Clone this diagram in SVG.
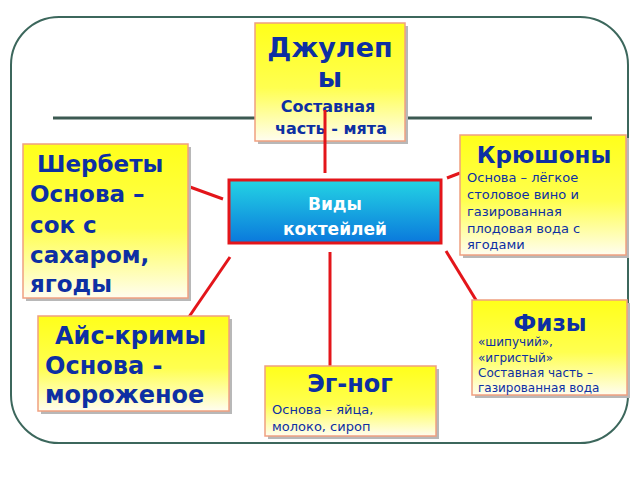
<svg xmlns="http://www.w3.org/2000/svg" width="640" height="480" viewBox="0 0 640 480">
<style>
.box{stroke:#f0a080;stroke-width:1.5;fill:url(#yg)}
.sh{fill:#b8b8b8}
.t{font-family:"DejaVu Sans","Noto Sans",sans-serif;fill:#0d2fa3;font-weight:bold}
.s{font-family:"DejaVu Sans","Noto Sans",sans-serif;fill:#0d2fa3}
.c{stroke:#e3151a;stroke-width:3;fill:none}
</style>
<defs>
<linearGradient id="yg" x1="0" y1="0" x2="0" y2="1"><stop offset="0" stop-color="#ffff1a"/><stop offset="0.55" stop-color="#ffff50"/><stop offset="1" stop-color="#fffdf0"/></linearGradient>
<linearGradient id="bg" x1="0" y1="0" x2="0" y2="1"><stop offset="0" stop-color="#24d4e4"/><stop offset="1" stop-color="#0a78dc"/></linearGradient>
</defs>
<rect width="640" height="480" fill="#fff"/>
<rect x="11" y="17" width="617" height="426" rx="48" fill="none" stroke="#3c675c" stroke-width="2"/>
<line x1="53" y1="118" x2="592" y2="118" stroke="#3c5a52" stroke-width="3"/>
<g id="julep"><rect class="sh" x="258" y="26" width="150" height="118"/><rect class="box" x="255" y="23" width="150" height="118"/>
<text class="t" x="330" y="57" font-size="27" text-anchor="middle">Джулеп</text>
<text class="t" x="330" y="87" font-size="27" text-anchor="middle">ы</text>
<text class="t" x="328" y="112" font-size="16" text-anchor="middle">Составная</text>
<text class="t" x="331" y="134" font-size="16" text-anchor="middle">часть - мята</text></g>
<g id="connectors">
<line class="c" x1="325" y1="110" x2="325" y2="173"/>
<line class="c" x1="190" y1="187" x2="223" y2="199" stroke="#c8401c"/>
<line class="c" x1="447" y1="178" x2="460" y2="173"/>
<line class="c" x1="230" y1="257" x2="182" y2="327"/>
<line class="c" x1="446" y1="251" x2="487" y2="318"/>
<line class="c" x1="330" y1="252" x2="330" y2="388"/>
</g>
<g id="sherbets"><rect class="sh" x="26" y="147" width="165" height="154"/><rect class="box" x="23" y="144" width="165" height="154"/>
<text class="t" x="37" y="172" font-size="23">Шербеты</text>
<text class="t" x="30" y="202" font-size="23">Основа –</text>
<text class="t" x="30" y="233" font-size="23">сок с</text>
<text class="t" x="30" y="263" font-size="23">сахаром,</text>
<text class="t" x="30" y="292" font-size="23">ягоды</text></g>
<g id="krushon"><rect class="sh" x="463" y="138" width="166" height="120"/><rect class="box" x="460" y="135" width="166" height="120"/>
<text class="t" x="544" y="163" font-size="23" text-anchor="middle">Крюшоны</text>
<text class="s" x="467" y="182" font-size="13">Основа – лёгкое</text>
<text class="s" x="467" y="199" font-size="13">столовое вино и</text>
<text class="s" x="467" y="216" font-size="13">газированная</text>
<text class="s" x="467" y="233" font-size="13">плодовая вода с</text>
<text class="s" x="467" y="249" font-size="13">ягодами</text></g>
<g id="center"><rect x="229" y="180" width="212" height="63" fill="url(#bg)" stroke="#e3151a" stroke-width="3"/>
<text x="335" y="210" font-size="17" fill="#fff" font-weight="bold" font-family="DejaVu Sans,sans-serif" text-anchor="middle">Виды</text>
<text x="335" y="235" font-size="17" fill="#fff" font-weight="bold" font-family="DejaVu Sans,sans-serif" text-anchor="middle">коктейлей</text></g>
<g id="fizz"><rect class="sh" x="475" y="303" width="155" height="95"/><rect class="box" x="472" y="300" width="155" height="95"/>
<text class="t" x="550" y="331" font-size="23" text-anchor="middle">Физы</text>
<text class="s" x="478" y="346" font-size="12">«шипучий»,</text>
<text class="s" x="478" y="362" font-size="12">«игристый»</text>
<text class="s" x="478" y="377" font-size="12">Составная часть –</text>
<text class="s" x="478" y="392" font-size="12">газированная вода</text></g>
<g id="icecream"><rect class="sh" x="41" y="319" width="191" height="95"/><rect class="box" x="38" y="316" width="191" height="95"/>
<text class="t" x="55" y="344" font-size="24">Айс-кримы</text>
<text class="t" x="45" y="374" font-size="24">Основа -</text>
<text class="t" x="45" y="403" font-size="24">мороженое</text></g>
<g id="eggnog"><rect class="sh" x="268" y="369" width="171" height="70"/><rect class="box" x="265" y="366" width="171" height="70"/>
<text class="t" x="350" y="392" font-size="24" text-anchor="middle">Эг-ног</text>
<text class="s" x="272" y="414" font-size="13">Основа – яйца,</text>
<text class="s" x="272" y="431" font-size="13">молоко, сироп</text></g>
</svg>
